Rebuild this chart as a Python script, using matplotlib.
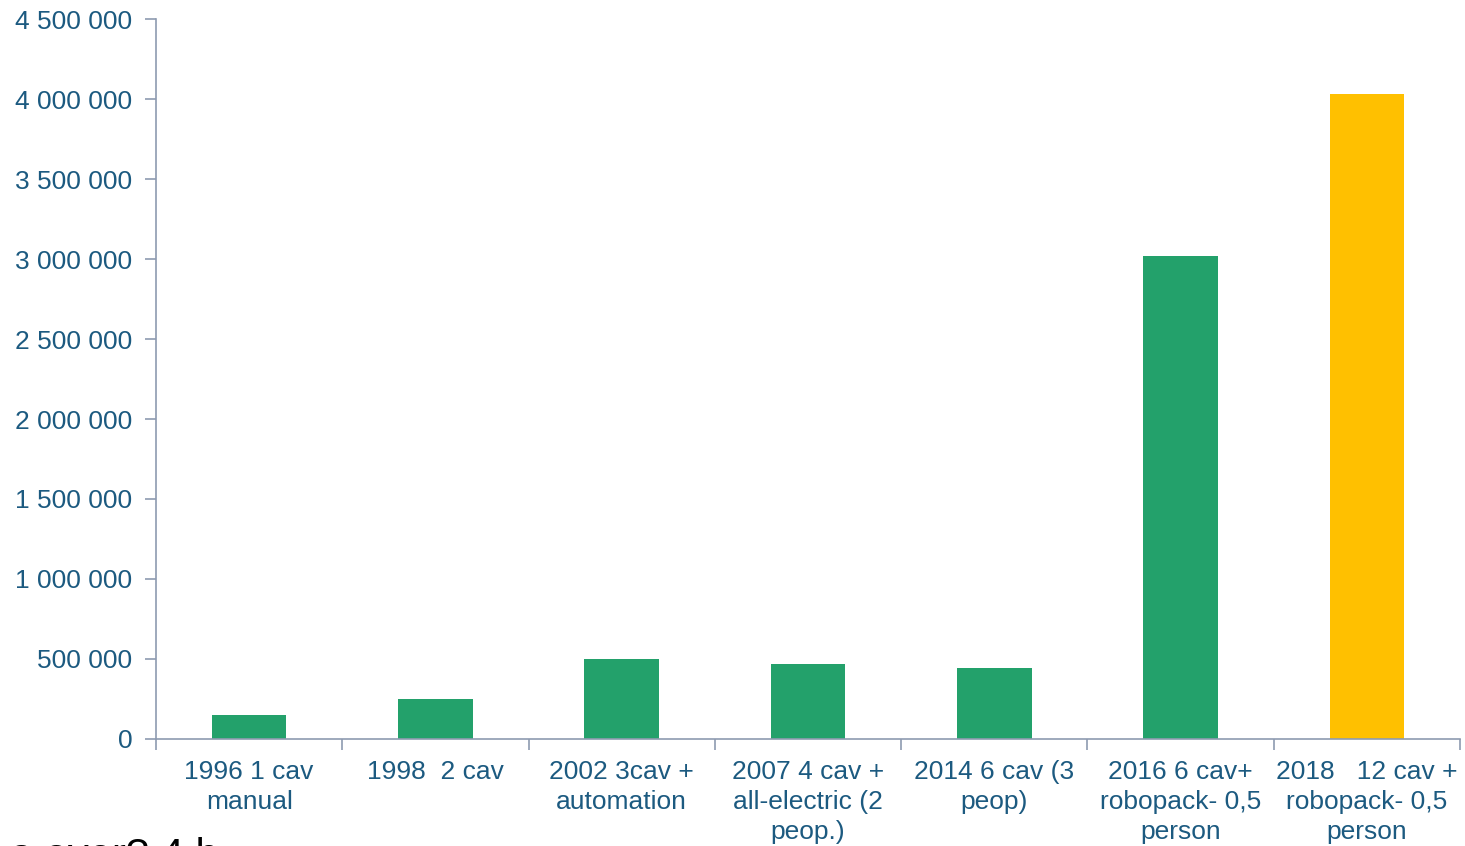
import numpy as np
import matplotlib
matplotlib.use("Agg")
import matplotlib.pyplot as plt

# categories and values
categories = ["1996 1 cav\nmanual", "1998  2 cav", "2002 3cav +\nautomation",
              "2007 4 cav +\nall-electric (2\npeop.)", "2014 6 cav (3\npeop)",
              "2016 6 cav+\nrobopack- 0,5\nperson", "2018   12 cav +\nrobopack- 0,5\nperson"]
values = [150000, 250000, 500000, 470000, 445000, 3020000, 4030000]
colors = ["#23A16B"] * 6 + ["#FFC000"]
yticks = np.arange(0, 4500001, 500000)

TEXT = "#1C5A80"
AXIS = "#8E9BB0"

plt.rcParams['font.family'] = ['Liberation Sans', 'DejaVu Sans']

fig = plt.figure(figsize=(14.65, 8.46), dpi=100)
ax = fig.add_axes([0.1065, 0.1265, 0.8901, 0.851])

x = np.arange(len(categories))
ax.bar(x, values, width=0.4, color=colors)

ax.set_xlim(-0.5, len(categories) - 0.5)
ax.set_ylim(0, 4500000)
ax.set_yticks(yticks)
ax.set_yticklabels([f"{v:,}".replace(",", " ") for v in yticks])

ax.set_xticks(x)
ax.set_xticklabels(categories, linespacing=1.33)
ax.set_xticks(np.arange(-0.5, len(categories)), minor=True)
ax.tick_params(axis='x', which='major', length=0, pad=15, labelsize=19, labelcolor=TEXT)
ax.tick_params(axis='x', which='minor', length=8, width=1.2, color=AXIS)
ax.tick_params(axis='y', length=8, width=1.2, color=AXIS, pad=9, labelsize=19, labelcolor=TEXT)

for s in ["top", "right"]:
    ax.spines[s].set_visible(False)
for s in ["left", "bottom"]:
    ax.spines[s].set_color(AXIS)
    ax.spines[s].set_linewidth(1.2)

# slide text cut off at the bottom edge
fig.text(10 / 1465, -0.026, "a over? 4 h", fontsize=30, color="black", va="baseline")

fig.savefig("out.png", dpi=100)
